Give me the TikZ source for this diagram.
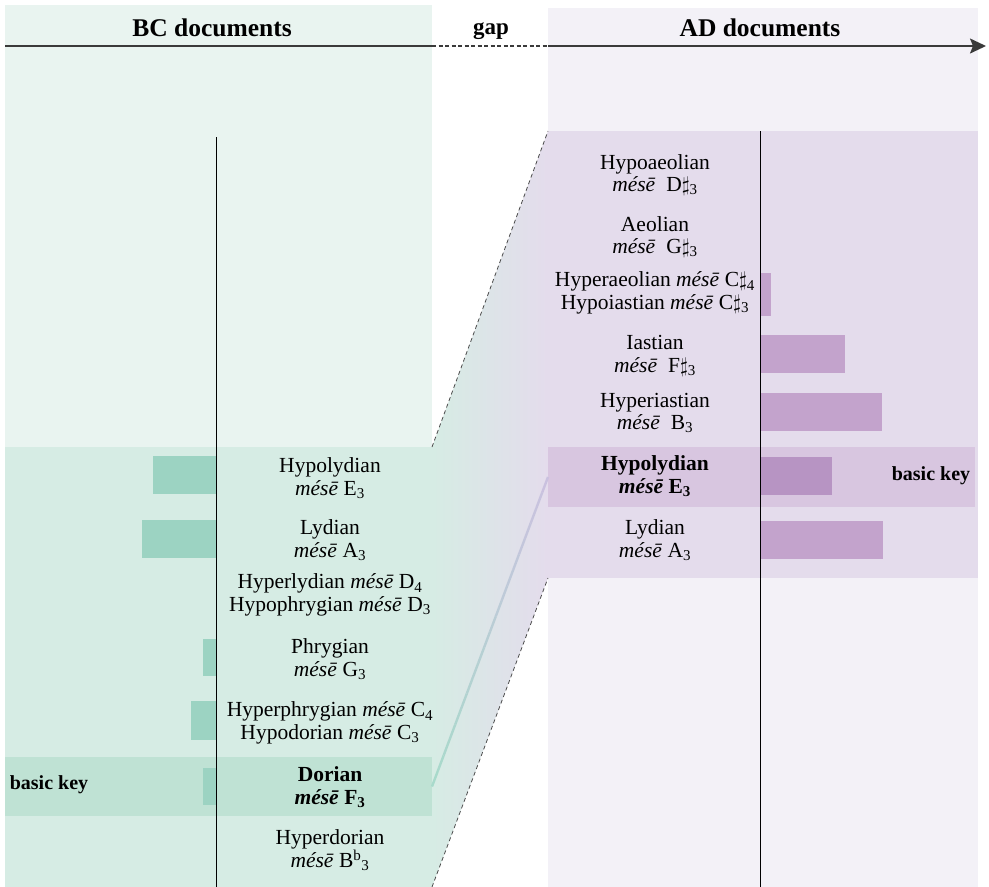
\documentclass[tikz,border=0pt]{standalone}
\usepackage{fontspec}
\setmainfont{Liberation Serif}
\usetikzlibrary{arrows.meta,calc}

\definecolor{bcpale}{HTML}{E9F4F0}
\definecolor{bczone}{HTML}{D6ECE4}
\definecolor{bcband}{HTML}{BFE2D4}
\definecolor{bcbar}{HTML}{9CD3C2}
\definecolor{bclink}{HTML}{A8DACB}
\definecolor{adpale}{HTML}{F3F1F7}
\definecolor{adzone}{HTML}{E4DCEC}
\definecolor{adband}{HTML}{D8C6E0}
\definecolor{adbar}{HTML}{C3A3CC}
\definecolor{adbarkey}{HTML}{B794C3}
\definecolor{adlink}{HTML}{CCC0E0}
\definecolor{axisgray}{HTML}{3A3A3A}

\newcommand{\sub}[1]{\textsubscript{#1}}
\newcommand{\shp}{$\sharp$}
\newcommand{\mese}{\textit{mésē}}

\tikzset{
  lab/.style={font=\fontsize{21.5}{22.5}\selectfont, align=center, inner sep=0pt},
  head/.style={font=\bfseries\fontsize{25.5}{28}\selectfont, inner sep=0pt, anchor=base},
  keylab/.style={font=\bfseries\fontsize{20}{22}\selectfont, inner sep=0pt},
  band/.style={rectangle, inner sep=0pt, outer sep=0pt, draw=none},
  axisline/.style={line width=1.8pt, draw=axisgray},
  guide/.style={draw=black!70, line width=0.8pt, dash pattern=on 4pt off 3pt},
  stem/.style={draw=black, line width=0.8pt},
}

\begin{document}
\begin{tikzpicture}[x=1pt,y=-1pt]
\useasboundingbox (0,0) rectangle (989,887);

% period panels
\fill[bcpale] (5,5) rectangle (432,887);
\fill[adpale] (548,8) rectangle (978,887);

% ranges of attested keys
\fill[bczone] (5,447) rectangle (432,887);
\fill[adzone] (548,131) rectangle (978,578);

% transition between the two ranges
\coordinate (gTL) at (432,447);
\coordinate (gBL) at (432,887);
\coordinate (gTR) at (548,131);
\coordinate (gBR) at (548,578);
\shade[left color=bczone, right color=adzone] (gTL) -- (gTR) -- (gBR) -- (gBL) -- cycle;
\draw[guide] (gTL) -- (gTR);
\draw[guide] (gBL) -- (gBR);

% basic-key bands
\node[band, fill=bcband, minimum width=427pt, minimum height=59pt] (bckey) at (218.5,786.5) {};
\node[band, fill=adband, minimum width=427pt, minimum height=60pt] (adkey) at (761.5,477) {};

% link between the two basic keys
\foreach \i in {0,...,19}{
  \pgfmathsetmacro{\ta}{\i/20}
  \pgfmathsetmacro{\tb}{(\i+1)/20}
  \pgfmathsetmacro{\mix}{100-5*\i}
  \draw[line width=2.4pt, color=bclink!\mix!adlink, line cap=butt]
    ($(bckey.east)!\ta!(adkey.west)$) -- ($(bckey.east)!\tb!(adkey.west)$);
}

% bars, BC
\fill[bcbar] (153,456) rectangle (216,494);
\fill[bcbar] (142,520) rectangle (216,558);
\fill[bcbar] (203,639) rectangle (216,676);
\fill[bcbar] (191,701) rectangle (216,740);
\fill[bcbar] (203,768) rectangle (216,805);

% bars, AD
\fill[adbar] (760,273) rectangle (771,316);
\fill[adbar] (760,335) rectangle (845,373);
\fill[adbar] (760,393) rectangle (882,431);
\fill[adbarkey] (760,457) rectangle (832,495);
\fill[adbar] (760,521) rectangle (883,559);

% stems
\coordinate (bcTop) at (216,137);
\coordinate (bcBot) at (216,887);
\coordinate (adTop) at (760,131);
\coordinate (adBot) at (760,887);
\draw[stem] (bcTop) -- (bcBot);
\draw[stem] (adTop) -- (adBot);

% time axis
\coordinate (ax0) at (5,46);
\coordinate (ax1) at (432,46);
\coordinate (ax2) at (548,46);
\coordinate (ax3) at (986,46);
\draw[axisline] (ax0) -- (ax1);
\draw[axisline, line width=1.4pt, dash pattern=on 4pt off 2.5pt] (ax1) -- (ax2);
\draw[axisline, -{Stealth[length=16pt,width=15pt,inset=3pt]}] (ax2) -- (ax3);

% headings
\node[head] (hBC) at (212,36) {BC documents};
\node[head, font=\bfseries\fontsize{23}{26}\selectfont] (hGap) at (491,34) {gap};
\node[head] (hAD) at (760,36) {AD documents};

% BC keys
\node[lab] (bc1) at (330,478) {Hypolydian\\\mese{} E\sub{3}};
\node[lab] (bc2) at (330,540) {Lydian\\\mese{} A\sub{3}};
\node[lab] (bc3) at (330,595) {Hyperlydian \mese{} D\sub{4}\\Hypophrygian \mese{} D\sub{3}};
\node[lab] (bc4) at (330,659) {Phrygian\\\mese{} G\sub{3}};
\node[lab] (bc5) at (330,723) {Hyperphrygian \mese{} C\sub{4}\\Hypodorian \mese{} C\sub{3}};
\node[lab] (bc6) at (330,787) {\textbf{Dorian}\\\textbf{\mese{} F\sub{3}}};
\node[lab] (bc7) at (330,850) {Hyperdorian\\\mese{} B\textsuperscript{b}\sub{3}};
\node[keylab] (bcKeyLab) at (49,785) {basic key};

% AD keys
\node[lab] (ad1) at (655,175) {Hypoaeolian\\\mese\enspace D\shp\sub{3}};
\node[lab] (ad2) at (655,237) {Aeolian\\\mese\enspace G\shp\sub{3}};
\node[lab] (ad3) at (655,293) {Hyperaeolian \mese{} C\shp\sub{4}\\Hypoiastian \mese{} C\shp\sub{3}};
\node[lab] (ad4) at (655,356) {Iastian\\\mese\enspace F\shp\sub{3}};
\node[lab] (ad5) at (655,413) {Hyperiastian\\\mese\enspace B\sub{3}};
\node[lab] (ad6) at (655,476) {\textbf{Hypolydian}\\\textbf{\mese{} E\sub{3}}};
\node[lab] (ad7) at (655,540) {Lydian\\\mese{} A\sub{3}};
\node[keylab] (adKeyLab) at (931,476) {basic key};
\end{tikzpicture}
\end{document}
